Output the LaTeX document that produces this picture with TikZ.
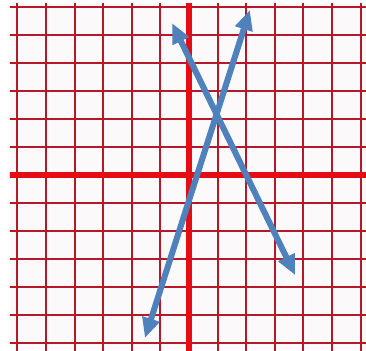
\documentclass[tikz,border=0pt]{standalone}
\usetikzlibrary{arrows.meta}
\definecolor{gridred}{RGB}{182,24,40}
\definecolor{axisred}{RGB}{230,12,20}
\definecolor{lineblue}{RGB}{79,129,189}
\definecolor{paper}{RGB}{252,249,250}

\begin{document}
\begin{tikzpicture}[x=1cm, y=1cm,
                    gridline/.style={gridred, line width=2.1pt},
                    axisline/.style={axisred, line width=6pt},
                    twoway/.style={lineblue, line width=6pt,
                      {Triangle[length=0.7cm, width=0.6cm]}-{Triangle[length=0.7cm, width=0.6cm]}}]
    \useasboundingbox (-6.608,-6.119) rectangle (6.189,6.119);
    % graph paper
    \fill[paper] (-6.26,-6.12) rectangle (6.19,5.98);
    \begin{scope}
        \clip (-6.26,-6.12) rectangle (6.19,5.98);
        \foreach \k in {-7,...,7} {
            \draw[gridline] (\k,-7) -- (\k,7);
            \draw[gridline] (-7,0.98*\k) -- (7,0.98*\k);
        }
        % axes
        \draw[axisline] (-7,0) -- (7,0);
        \draw[axisline] (0,-7) -- (0,7);
    \end{scope}
    % line ends
    \coordinate (steeplow) at (-1.54,-5.70);
    \coordinate (steephigh) at (2.13,5.77);
    \coordinate (fallhigh) at (-0.59,5.31);
    \coordinate (falllow) at (3.71,-3.50);
    % the two lines
    \draw[twoway] (steeplow) -- (steephigh);
    \draw[twoway] (fallhigh) -- (falllow);
\end{tikzpicture}
\end{document}
